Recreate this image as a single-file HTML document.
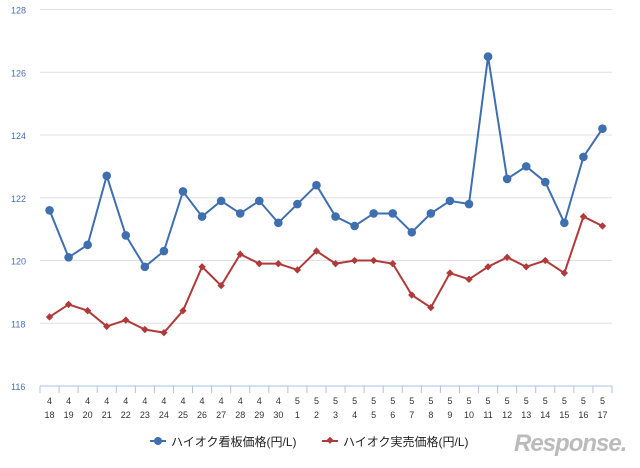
<!DOCTYPE html>
<html><head><meta charset="utf-8"><style>
body{margin:0;background:#fff;}
svg text{font-family:"Liberation Sans","Noto Sans CJK JP",sans-serif;}
</style></head><body>
<svg width="640" height="463" xmlns="http://www.w3.org/2000/svg">
<g id="grid"></g>
<g id="yax"></g>
<g id="xax"></g>
<g id="series"></g>
<g>
<g>
<line x1="150" y1="441" x2="166" y2="441" stroke="#3f6faf" stroke-width="2"/><circle cx="158" cy="441" r="4" fill="#3f6faf"/>
<text x="171" y="446" font-size="12" fill="#222">ハイオク看板価格(円/L)</text></g>
<g>
<line x1="322" y1="441" x2="338" y2="441" stroke="#b03a3a" stroke-width="2"/><rect x="327" y="438" width="5" height="5" transform="rotate(45 330 441)" fill="#b03a3a"/>
<text x="343" y="446" font-size="12" fill="#222">ハイオク実売価格(円/L)</text></g>
</g>
<g>
<text x="514" y="451" font-size="24" font-style="italic" fill="#bbb" font-weight="bold" letter-spacing="-1">Response.</text>
</g>
</svg>
<script>
const months=[4,4,4,4,4,4,4,4,4,4,4,4,4,5,5,5,5,5,5,5,5,5,5,5,5,5,5,5,5,5];
const days=[18,19,20,21,22,23,24,25,26,27,28,29,30,1,2,3,4,5,6,7,8,9,10,11,12,13,14,15,16,17];
const posted=[121.6,120.1,120.5,122.7,120.8,119.8,120.3,122.2,121.4,121.9,121.5,121.9,121.2,121.8,122.4,121.4,121.1,121.5,121.5,120.9,121.5,121.9,121.8,126.5,122.6,123.0,122.5,121.2,123.3,124.2];
const actual=[118.2,118.6,118.4,117.9,118.1,117.8,117.7,118.4,119.8,119.2,120.2,119.9,119.9,119.7,120.3,119.9,120.0,120.0,119.9,118.9,118.5,119.6,119.4,119.8,120.1,119.8,120.0,119.6,121.4,121.1];
const yTicks=[116,118,120,122,124,126,128];
const NS="http://www.w3.org/2000/svg";
const X0=40,X1=612,Y0=386,Y1=9.5,vmin=116,vmax=128;
const bw=(X1-X0)/days.length;
const x=i=>X0+bw*(i+0.5);
const y=v=>Y0-(v-vmin)/(vmax-vmin)*(Y0-Y1);
function mk(t,a,p){const e=document.createElementNS(NS,t);for(const k in a)e.setAttribute(k,a[k]);p.appendChild(e);return e;}
const grid=document.getElementById('grid'),yax=document.getElementById('yax'),xax=document.getElementById('xax'),ser=document.getElementById('series');
yTicks.forEach(t=>{
 if(t>vmin){const l=mk('line',{x1:X0,x2:X1,y1:y(t),y2:y(t),stroke:'#e0e0e0','stroke-width':1},grid);
 
 }
 const tx=mk('text',{x:11,y:y(t)+4,'font-size':9,fill:'#4a6fb0'},yax);tx.textContent=t;
 
 
});
mk('line',{x1:X0,x2:X1,y1:Y0,y2:Y0,stroke:'#a8c4e0','stroke-width':1},xax);
for(let i=0;i<=days.length;i++){mk('line',{x1:X0+bw*i,x2:X0+bw*i,y1:Y0,y2:Y0+7,stroke:'#a8c4e0'},xax);}
days.forEach((d,i)=>{
 const a=mk('text',{x:x(i),y:404,'font-size':9,fill:'#333','text-anchor':'middle'},xax);a.textContent=months[i];
 
 
 const b=mk('text',{x:x(i),y:418,'font-size':9,fill:'#333','text-anchor':'middle'},xax);b.textContent=d;
 
 
});
function line(vals,col,name,marker){
 const g=mk('g',{},ser);
 
 
 const p=mk('polyline',{points:vals.map((v,i)=>x(i)+','+y(v)).join(' '),fill:'none',stroke:col,'stroke-width':2},g);
 
 
 vals.forEach((v,i)=>{let m;
  if(marker==='c')m=mk('circle',{cx:x(i),cy:y(v),r:4.3,fill:col},g);
  else m=mk('rect',{x:x(i)-2.6,y:y(v)-2.6,width:5.2,height:5.2,fill:col,transform:`rotate(45 ${x(i)} ${y(v)})`},g);
  
  
 });
}
line(actual,'#b03a3a','actual-price-series','d');
line(posted,'#3f6faf','posted-price-series','c');
</script>
</body></html>
